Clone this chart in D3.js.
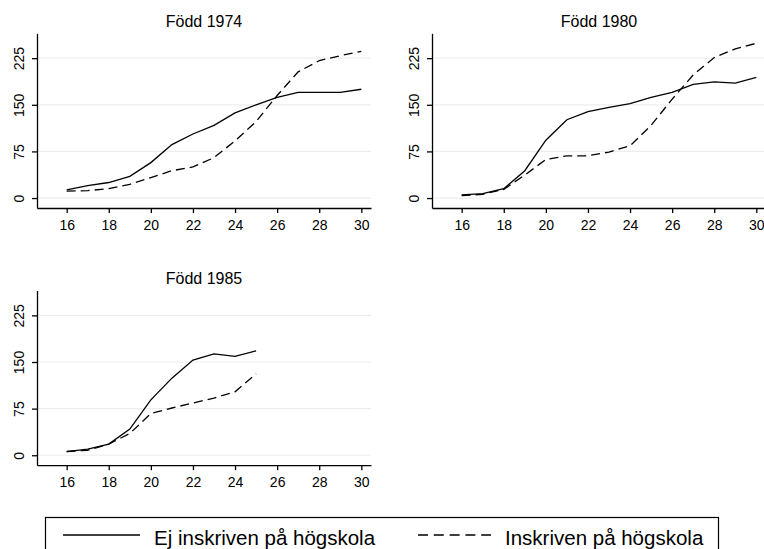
<!DOCTYPE html>
<html>
<head>
<meta charset="utf-8">
<script src="https://cdn.jsdelivr.net/npm/d3@7/dist/d3.min.js"></script>
<style>
  html, body { margin: 0; padding: 0; background: #fff; }
  svg { display: block; font-family: "Liberation Sans", Arial, sans-serif; }
</style>
</head>
<body>
<svg id="chart" width="764" height="549"></svg>
<script>
// ---- data ----
const ages = [16,17,18,19,20,21,22,23,24,25,26,27,28,29,30];
const panelTitles = ["Född 1974", "Född 1980", "Född 1985"];
const born1974Ej  = [13,20,25,35,57,86,103,117,137,150,162,170,170,170,175];
const born1974Ins = [11,12,15,22,33,44,50,65,92,123,165,203,221,229,236];
const born1980Ej  = [5,7,15,44,93,126,139,146,152,162,170,183,187,185,194];
const born1980Ins = [4,6,14,37,62,68,68,74,84,117,159,198,226,240,249];
const born1985Ej  = [6,10,18,42,89,124,153,163,159,168];
const born1985Ins = [6,8,18,35,67,76,84,92,102,131];
const xTicks = [16,18,20,22,24,26,28,30];
const yTicks = [0,75,150,225];
const seriesNames = ["Ej inskriven på högskola", "Inskriven på högskola"];

const panels = [
  {title: panelTitles[0], ej: born1974Ej, ins: born1974Ins, left: 37,  top: 33.3},
  {title: panelTitles[1], ej: born1980Ej, ins: born1980Ins, left: 432, top: 33.3},
  {title: panelTitles[2], ej: born1985Ej, ins: born1985Ins, left: 37,  top: 290.5}
];
const plotW = 334, plotH = 174.7;
const dash = "9,5";

const svg = d3.select("#chart");

panels.forEach(p => {
  const g = svg.append("g").attr("transform", `translate(${p.left},${p.top})`);
  const x = d3.scaleLinear().domain([14.59, 30.46]).range([0, plotW]);
  const y = d3.scaleLinear().domain([-16, 265]).range([plotH, 0]);

  // gridlines
  g.append("g").selectAll("line").data(yTicks).join("line")
    .attr("x1", 0).attr("x2", plotW)
    .attr("y1", d => y(d)).attr("y2", d => y(d))
    .attr("stroke", "#eeeeee").attr("stroke-width", 1.2);

  // title
  g.append("text").attr("x", plotW / 2).attr("y", -6.5)
    .attr("text-anchor", "middle").attr("font-size", 16).attr("fill", "#000")
    .text(p.title);

  // axes
  const xa = g.append("g").attr("transform", `translate(0,${plotH})`)
    .call(d3.axisBottom(x).tickValues(xTicks).tickSize(5).tickSizeOuter(0).tickFormat(d3.format("d")));
  xa.selectAll("text").attr("y", 22).attr("dy", 0).attr("font-size", 14)
    .attr("font-family", "Liberation Sans, Arial, sans-serif").attr("fill", "#000");

  const ya = g.append("g")
    .call(d3.axisLeft(y).tickValues(yTicks).tickSize(5).tickSizeOuter(0).tickFormat(d3.format("d")));
  ya.selectAll("text")
    .attr("x", 0).attr("y", 0).attr("dy", 0)
    .attr("text-anchor", "middle")
    .attr("transform", "translate(-13.5,0) rotate(-90)")
    .attr("font-size", 14)
    .attr("font-family", "Liberation Sans, Arial, sans-serif").attr("fill", "#000");

  [xa, ya].forEach(a => {
    a.selectAll("path, line").attr("stroke", "#000").attr("stroke-width", 1.3);
  });

  const line = d3.line().x((d, i) => x(ages[i])).y(d => y(d));
  g.append("path").datum(p.ej).attr("d", line)
    .attr("fill", "none").attr("stroke", "#000").attr("stroke-width", 1.3);
  g.append("path").datum(p.ins).attr("d", line)
    .attr("fill", "none").attr("stroke", "#000").attr("stroke-width", 1.3)
    .attr("stroke-dasharray", dash);
});

// legend
const lg = svg.append("g");
lg.append("rect").attr("x", 45.5).attr("y", 517.5).attr("width", 673).attr("height", 45)
  .attr("fill", "none").attr("stroke", "#000").attr("stroke-width", 1.2);
lg.append("line").attr("x1", 63).attr("x2", 140).attr("y1", 535).attr("y2", 535)
  .attr("stroke", "#000").attr("stroke-width", 1.3);
lg.append("text").attr("x", 154).attr("y", 545).attr("font-size", 20.5).attr("fill", "#000")
  .text(seriesNames[0]);
lg.append("line").attr("x1", 418).attr("x2", 491).attr("y1", 535).attr("y2", 535)
  .attr("stroke", "#000").attr("stroke-width", 1.3).attr("stroke-dasharray", "10,5.8");
lg.append("text").attr("x", 505).attr("y", 545).attr("font-size", 20.5).attr("fill", "#000")
  .text(seriesNames[1]);
</script>
</body>
</html>
